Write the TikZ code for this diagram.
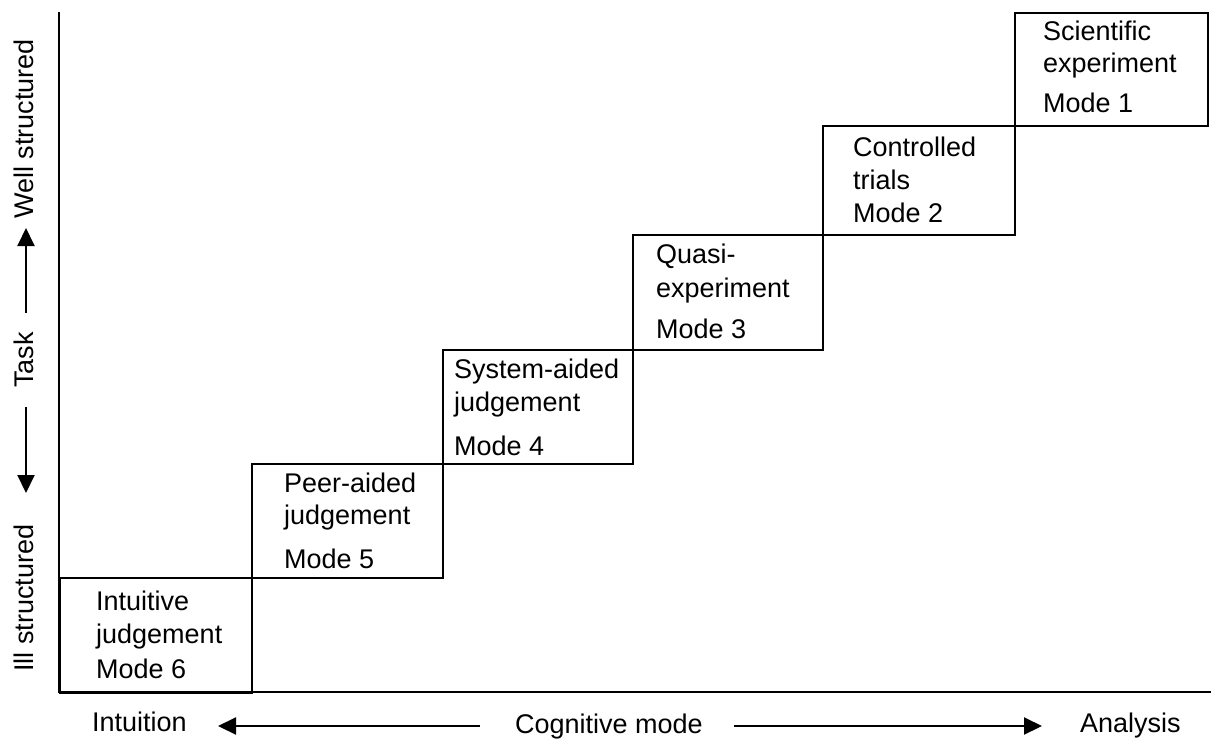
\documentclass[tikz,border=0pt]{standalone}
\usepackage{fontspec}
\setmainfont{Liberation Sans}
\usetikzlibrary{arrows.meta}
\begin{document}
\begin{tikzpicture}[x=1pt,y=-1pt,
  box/.style={draw, line width=2.4pt, inner sep=0pt, anchor=north west},
  lbl/.style={anchor=base west, inner sep=0pt, font=\fontsize{27}{32}\selectfont},
  vlbl/.style={rotate=90, anchor=base, inner sep=0pt, font=\fontsize{27}{32}\selectfont},
  axisline/.style={line width=2.6pt},
  arr/.style={line width=2pt, -{Triangle[length=18pt,width=17pt]}}]
\useasboundingbox (0,0) rectangle (1211,740);

% axes
\coordinate (ytop) at (59,12);
\coordinate (origin) at (59,692);
\coordinate (xend) at (1211,692);
\draw[axisline] (ytop) -- (origin) -- (xend);

% staircase of modes
\node[box, minimum width=192pt, minimum height=115pt] (m6) at (59,577) {};
\node[box, minimum width=191pt, minimum height=114pt] (m5) at (251,463) {};
\node[box, minimum width=190pt, minimum height=114pt] (m4) at (442,349) {};
\node[box, minimum width=190pt, minimum height=115pt] (m3) at (632,234) {};
\node[box, minimum width=192pt, minimum height=109pt] (m2) at (822,125) {};
\node[box, minimum width=193pt, minimum height=113pt] (m1) at (1014,12) {};

% box texts
\node[lbl] (m6a) at (96,610) {Intuitive};
\node[lbl] (m6b) at (96,643) {judgement};
\node[lbl] (m6c) at (96,678) {Mode 6};

\node[lbl] (m5a) at (284,492) {Peer-aided};
\node[lbl] (m5b) at (284,524) {judgement};
\node[lbl] (m5c) at (284,568) {Mode 5};

\node[lbl] (m4a) at (454,378) {System-aided};
\node[lbl] (m4b) at (454,411) {judgement};
\node[lbl] (m4c) at (454,455) {Mode 4};

\node[lbl] (m3a) at (656,263) {Quasi-};
\node[lbl] (m3b) at (656,297) {experiment};
\node[lbl] (m3c) at (656,338) {Mode 3};

\node[lbl] (m2a) at (853,156) {Controlled};
\node[lbl] (m2b) at (853,189) {trials};
\node[lbl] (m2c) at (853,222) {Mode 2};

\node[lbl] (m1a) at (1043,40) {Scientific};
\node[lbl] (m1b) at (1043,72) {experiment};
\node[lbl] (m1c) at (1043,112) {Mode 1};

% horizontal axis caption
\node[lbl] (intu) at (92,731) {Intuition};
\node[lbl] (cog) at (515,733) {Cognitive mode};
\node[lbl] (anal) at (1080,732) {Analysis};
\coordinate (ls) at (480,726);
\coordinate (lt) at (218,726);
\coordinate (rs) at (734,726);
\coordinate (rt) at (1042,726);
\draw[arr] (ls) -- (lt);
\draw[arr] (rs) -- (rt);

% vertical axis caption
\node[vlbl] (well) at (33,129) {Well structured};
\node[vlbl] (task) at (33,360) {Task};
\node[vlbl] (ill) at (33,598) {Ill structured};
\coordinate (us) at (26,313);
\coordinate (ut) at (26,228);
\coordinate (ds) at (26,407);
\coordinate (dt) at (26,493);
\draw[arr] (us) -- (ut);
\draw[arr] (ds) -- (dt);
\end{tikzpicture}
\end{document}
